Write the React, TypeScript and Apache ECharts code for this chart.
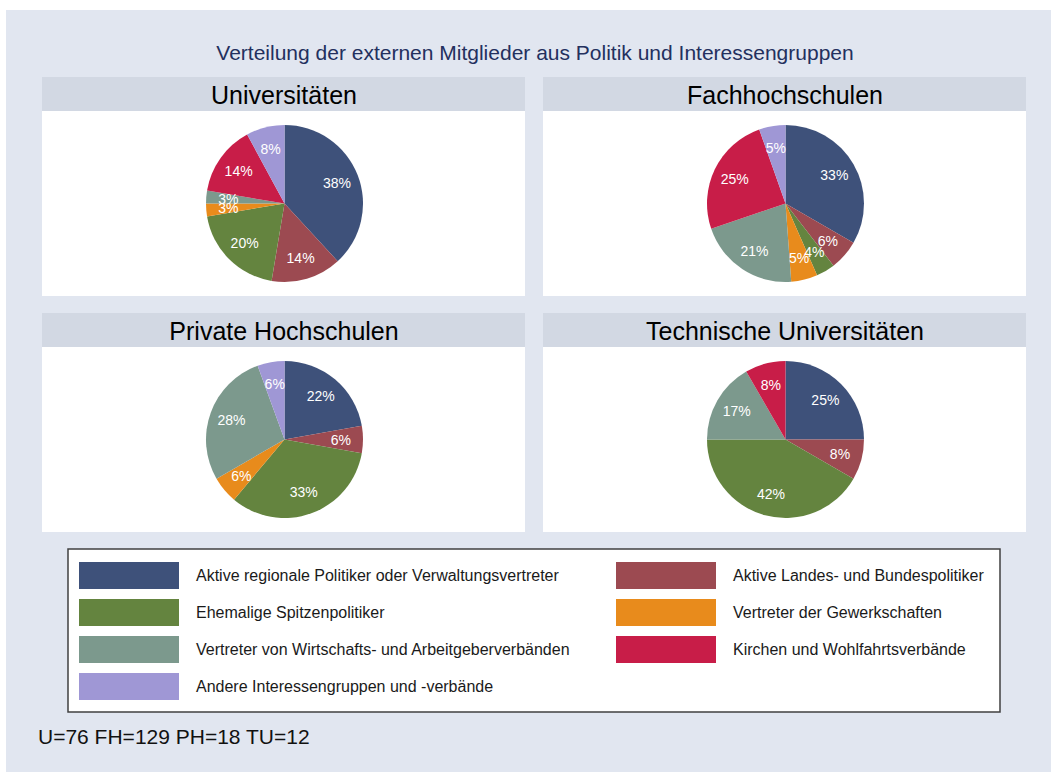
import React, { useEffect, useRef } from "react";
import * as echarts from "echarts";

const categories = [
  "Aktive regionale Politiker oder Verwaltungsvertreter",
  "Aktive Landes- und Bundespolitiker",
  "Ehemalige Spitzenpolitiker",
  "Vertreter der Gewerkschaften",
  "Vertreter von Wirtschafts- und Arbeitgeberverbänden",
  "Kirchen und Wohlfahrtsverbände",
  "Andere Interessengruppen und -verbände",
];
const colors = ["#3e517a", "#9c4a51", "#64843f", "#e88b1c", "#7c998d", "#c81d48", "#9f97d5"];

const panelTitles = ["Universitäten", "Fachhochschulen", "Private Hochschulen", "Technische Universitäten"];
// member counts per category (U=76, FH=129, PH=18, TU=12)
const uniValues = [29, 11, 15, 2, 2, 11, 6];
const fhValues = [43, 8, 5, 7, 27, 32, 7];
const phValues = [4, 1, 6, 1, 5, 0, 1];
const tuValues = [3, 1, 5, 0, 2, 1, 0];
const allValues = [uniValues, fhValues, phValues, tuValues];

const mainTitle = "Verteilung der externen Mitglieder aus Politik und Interessengruppen";
const footer = "U=76 FH=129 PH=18 TU=12";

const FONT = "'Liberation Sans', Arial, sans-serif";

export default function App() {
  const ref = useRef<HTMLDivElement>(null);
  useEffect(() => {
    if (!ref.current) return;
    const chart = echarts.init(ref.current, null, { renderer: "svg" });

    const panelX = [42, 543];
    const headerY = [77, 313];
    const panels = panelTitles.map((t, i) => ({
      x: panelX[i % 2],
      y: headerY[Math.floor(i / 2)],
      title: t,
    }));
    const R = 78.5;

    const graphics: any[] = [
      { type: "rect", silent: true, z: -10, shape: { x: 6, y: 10, width: 1045, height: 762 }, style: { fill: "#e1e6f0" } },
      {
        type: "text", x: 535, y: 52, z: 5,
        style: { text: mainTitle, fill: "#23305e", font: `21px ${FONT}`, align: "center", verticalAlign: "middle" },
      },
      {
        type: "text", x: 38, y: 736, z: 5,
        style: { text: footer, fill: "#111", font: `21px ${FONT}`, align: "left", verticalAlign: "middle" },
      },
      {
        type: "rect", silent: true, z: -5, shape: { x: 68, y: 549, width: 932, height: 163 },
        style: { fill: "#ffffff", stroke: "#404040", lineWidth: 1.5 },
      },
    ];
    panels.forEach((p) => {
      graphics.push({ type: "rect", silent: true, z: -5, shape: { x: p.x, y: p.y, width: 483, height: 34 }, style: { fill: "#d2d8e3" } });
      graphics.push({ type: "rect", silent: true, z: -5, shape: { x: p.x, y: p.y + 34, width: 483, height: 185 }, style: { fill: "#ffffff" } });
      graphics.push({
        type: "text", x: p.x + 242, y: p.y + 17.5, z: 5,
        style: { text: p.title, fill: "#000", font: `25px ${FONT}`, align: "center", verticalAlign: "middle" },
      });
    });

    const mkData = (vals: number[]) =>
      vals.map((v, k) => ({ name: categories[k], value: v, itemStyle: { color: colors[k] } }));

    const mainSeries = allValues.map((vals, i) => ({
      type: "pie",
      center: [panels[i].x + 242.5, panels[i].y + 34 + 92.5],
      radius: [0, R],
      startAngle: 90,
      clockwise: true,
      data: mkData(vals),
      label: { show: false },
      labelLine: { show: false },
      itemStyle: { borderWidth: 0 },
      emphasis: { disabled: true },
      silent: true,
    }));
    const labelSeries = allValues.map((vals, i) => {
      const total = vals.reduce((a, b) => a + b, 0);
      return {
        type: "pie",
        center: [panels[i].x + 242.5, panels[i].y + 34 + 92.5],
        radius: [R * 0.36, R],
        startAngle: 90,
        clockwise: true,
        z: 5,
        avoidLabelOverlap: false,
        labelLayout: { hideOverlap: false },
        data: vals.map((v, k) => ({ name: categories[k], value: v, itemStyle: { color: "rgba(0,0,0,0)" } })),
        label: {
          show: true,
          position: "inside",
          color: "#ffffff",
          fontSize: 14,
          fontFamily: FONT,
          formatter: (p: any) => (p.value > 0 ? `${Math.round((p.value / total) * 100)}%` : ""),
        },
        labelLine: { show: false },
        itemStyle: { borderWidth: 0 },
        emphasis: { disabled: true },
        silent: true,
      };
    });

    const legendCommon = {
      orient: "vertical",
      top: 557,
      itemWidth: 100,
      itemHeight: 27,
      itemGap: 10,
      icon: "rect",
      selectedMode: false,
      textStyle: { fontSize: 16, color: "#1a1a1a", fontFamily: FONT, padding: [0, 0, 0, 12] },
    };

    chart.setOption({
      animation: false,
      graphic: graphics,
      legend: [
        { ...legendCommon, left: 74, data: [categories[0], categories[2], categories[4], categories[6]] },
        { ...legendCommon, left: 611, data: [categories[1], categories[3], categories[5]] },
      ],
      series: [...mainSeries, ...labelSeries],
    });
    return () => chart.dispose();
  }, []);
  return <div ref={ref} style={{ position: "absolute", left: 0, top: 0, width: 1051, height: 772 }} />;
}
